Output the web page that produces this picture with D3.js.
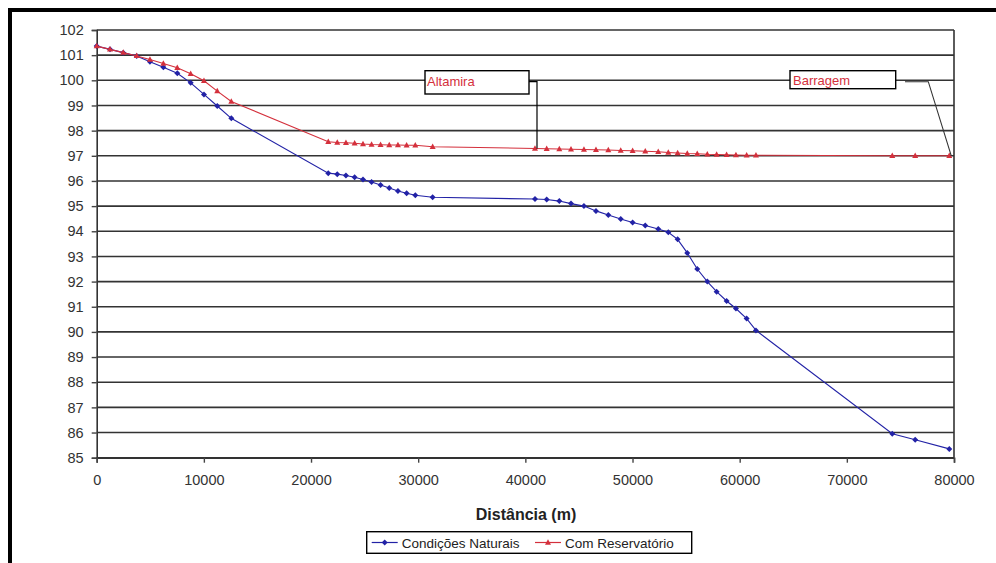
<!DOCTYPE html>
<html><head><meta charset="utf-8">
<script src="https://cdn.jsdelivr.net/npm/d3@7"></script>
<style>body{margin:0;background:#fff}svg{display:block}</style>
</head><body>
<svg id="c" width="996" height="563"></svg>
<script>
const distances = [0,1240,2480,3730,4970,6220,7520,8770,10010,11250,12560,
 21610,22450,23260,24070,24850,25650,26490,27300,28110,28920,29730,31350,
 40900,41990,43170,44260,45470,46590,47740,48900,50010,51190,52400,53340,54210,55110,56040,56980,57850,58780,59650,60650,61520,
 74240,76380,79560];
const naturais = [101.36,101.23,101.1,100.97,100.74,100.52,100.28,99.9,99.44,98.98,98.49,
 96.31,96.27,96.22,96.15,96.06,95.96,95.84,95.72,95.6,95.51,95.43,95.35,
 95.28,95.26,95.2,95.1,95.0,94.81,94.65,94.49,94.35,94.23,94.09,93.96,93.68,93.14,92.5,92.0,91.6,91.23,90.93,90.53,90.06,
 85.95,85.71,85.35];
const reservatorio = [101.36,101.23,101.1,100.97,100.83,100.67,100.5,100.26,99.98,99.57,99.16,
 97.56,97.53,97.52,97.5,97.47,97.45,97.44,97.43,97.43,97.42,97.42,97.36,
 97.29,97.28,97.27,97.26,97.25,97.24,97.23,97.21,97.2,97.18,97.16,97.13,97.11,97.09,97.08,97.06,97.05,97.04,97.03,97.02,97.02,
 97.0,97.0,97.0];
const seriesNames = ["Condições Naturais","Com Reservatório"];
const xTicks = [0,10000,20000,30000,40000,50000,60000,70000,80000];
const yTicks = [85,86,87,88,89,90,91,92,93,94,95,96,97,98,99,100,101,102];
const annotations = [{label:"Altamira", index:23}, {label:"Barragem", index:46}];
const xTitle = "Distância (m)";

const svg = d3.select("#c");
const x = d3.scaleLinear().domain([0,80000]).range([96.7,954]);
const y = d3.scaleLinear().domain([85,102]).range([457.7,30]);
const font = "'Liberation Sans', Arial, sans-serif";
const blue = "#2222a6", red = "#d4303c";

// outer frame (top & left)
svg.append("rect").attr("x",8).attr("y",8).attr("width",988).attr("height",4).attr("fill","#000");
svg.append("rect").attr("x",8).attr("y",8).attr("width",4).attr("height",555).attr("fill","#000");

// gridlines
svg.append("g").selectAll("line").data(yTicks).join("line")
  .attr("x1",x(0)).attr("x2",x(80000)).attr("y1",d=>y(d)).attr("y2",d=>y(d))
  .attr("stroke","#333").attr("stroke-width",1.6);
// right border
svg.append("line").attr("x1",x(80000)).attr("x2",x(80000)).attr("y1",y(102)).attr("y2",y(85))
  .attr("stroke","#333").attr("stroke-width",1.6);

// axes
const gy = svg.append("g").attr("transform",`translate(${x(0)},0)`)
  .call(d3.axisLeft(y).tickValues(yTicks).tickSize(5).tickPadding(8));
const gx = svg.append("g").attr("transform",`translate(0,${y(85)})`)
  .call(d3.axisBottom(x).tickValues(xTicks).tickSize(5).tickPadding(12).tickFormat(d3.format("d")));
[gx,gy].forEach(g=>{
  g.select(".domain").attr("stroke","#333").attr("stroke-width",1.6);
  g.selectAll(".tick line").attr("stroke","#444").attr("stroke-width",1.4);
  g.selectAll("text").attr("font-family",font).attr("font-size",14.5).attr("fill","#333");
});

// marker shapes
const diamond = "M0,-3L3,0L0,3L-3,0Z";
const triangle = "M0,-3.3L3,2.2L-3,2.2Z";

// series
const series = [
  {name:seriesNames[0], values:naturais, color:blue, shape:diamond},
  {name:seriesNames[1], values:reservatorio, color:red, shape:triangle}
];
const line = d3.line().x(d=>x(d[0])).y(d=>y(d[1]));
series.forEach(s=>{
  const pts = distances.map((d,i)=>[d,s.values[i]]);
  svg.append("path").datum(pts).attr("d",line).attr("fill","none")
    .attr("stroke",s.color).attr("stroke-width",1.1);
  svg.append("g").selectAll("path").data(pts).join("path")
    .attr("transform",d=>`translate(${x(d[0])},${y(d[1])})`)
    .attr("d",s.shape).attr("fill",s.color);
});

// annotations
const a1 = annotations[0], a2 = annotations[1];
const bx1 = 425, by = 70.7;
svg.append("rect").attr("x",bx1).attr("y",by).attr("width",104).attr("height",23.3)
  .attr("fill","#fff").attr("stroke","#000").attr("stroke-width",1.4);
svg.append("text").attr("x",bx1+2).attr("y",by+15).text(a1.label)
  .attr("font-family",font).attr("font-size",13).attr("fill",red);
const p1 = [x(distances[a1.index])+2, y(reservatorio[a1.index])];
svg.append("path").attr("d",`M${bx1+104},${by+11} H${p1[0]} V${p1[1]}`)
  .attr("fill","none").attr("stroke","#000").attr("stroke-width",1.2);

const bx2 = 790;
svg.append("rect").attr("x",bx2).attr("y",by).attr("width",105.7).attr("height",18)
  .attr("fill","#fff").attr("stroke","#000").attr("stroke-width",1.4);
svg.append("text").attr("x",bx2+3).attr("y",by+14).text(a2.label)
  .attr("font-family",font).attr("font-size",13).attr("fill",red);
const p2 = [x(distances[a2.index])+2, y(reservatorio[a2.index])];
svg.append("path").attr("d",`M${905},${by+11} H${928.3} L${p2[0]},${p2[1]}`)
  .attr("fill","none").attr("stroke","#333").attr("stroke-width",1.1);

// x title
svg.append("text").attr("x",526).attr("y",520).attr("text-anchor","middle")
  .attr("font-family",font).attr("font-size",16).attr("font-weight","bold").attr("fill","#222")
  .text(xTitle);

// legend
const lg = svg.append("g");
lg.append("rect").attr("x",366.7).attr("y",531.7).attr("width",325).attr("height",21.6)
  .attr("fill","#fff").attr("stroke","#000").attr("stroke-width",1.4);
const lx = [371.7, 535];
series.forEach((s,i)=>{
  lg.append("line").attr("x1",lx[i]).attr("x2",lx[i]+26).attr("y1",542.5).attr("y2",542.5)
    .attr("stroke",s.color).attr("stroke-width",1.2);
  lg.append("path").attr("transform",`translate(${lx[i]+13},542.5)`)
    .attr("d",s.shape).attr("fill",s.color);
  lg.append("text").attr("x",lx[i]+30).attr("y",547.5).text(s.name)
    .attr("font-family",font).attr("font-size",13.5).attr("fill","#222");
});
</script>
</body></html>
